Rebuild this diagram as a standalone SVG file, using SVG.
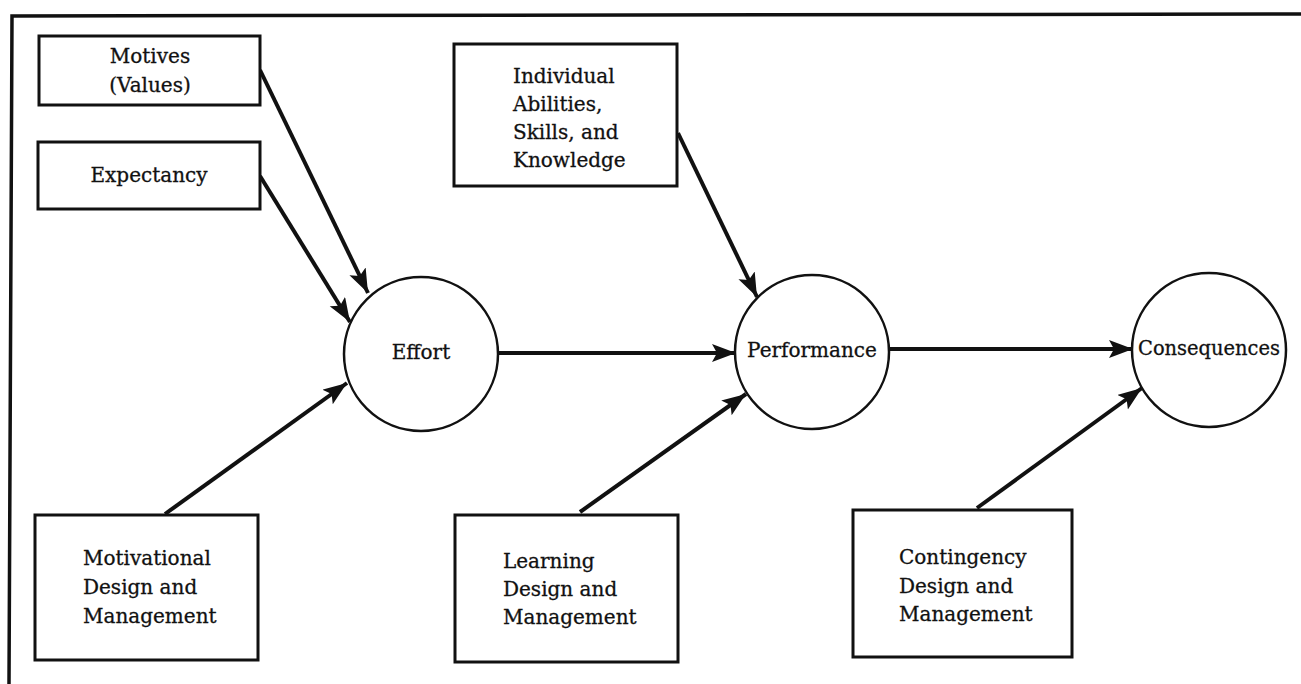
<svg xmlns="http://www.w3.org/2000/svg" width="1301" height="684" viewBox="0 0 1301 684">
<style>
.box{fill:#fff;stroke:#111;stroke-width:3}
.circ{fill:#fff;stroke:#111;stroke-width:2.5}
.t{font-family:"DejaVu Serif","Liberation Serif",serif;font-size:20px;fill:#111;stroke:#111;stroke-width:0.3}
.c{text-anchor:middle}
.conn{stroke:#111;stroke-width:4;fill:none;marker-end:url(#ah)}
.frame{stroke:#111;stroke-width:3.5;fill:none}
</style>
<defs>
<marker id="ah" markerUnits="userSpaceOnUse" markerWidth="26" markerHeight="20" refX="24" refY="9" orient="auto">
<path d="M0,0 L24,9 L0,18 L5,9 Z" fill="#111"/>
</marker>
</defs>
<rect width="1301" height="684" fill="#fff"/>
<path class="frame" d="M1301,14 L12,16 L9,684"/>
<g id="connectors">
<line class="conn" x1="260" y1="70" x2="368" y2="293"/>
<line class="conn" x1="260" y1="176" x2="350" y2="322"/>
<line class="conn" x1="165" y1="514" x2="347" y2="383"/>
<line class="conn" x1="497" y1="353" x2="736" y2="353"/>
<line class="conn" x1="678" y1="133" x2="757" y2="297"/>
<line class="conn" x1="580" y1="512" x2="746" y2="394"/>
<line class="conn" x1="888" y1="349" x2="1133" y2="349"/>
<line class="conn" x1="977" y1="508" x2="1142" y2="388"/>
</g>
<g id="motives">
<rect class="box" x="39" y="36" width="221" height="69"/>
<text class="t c" x="150" y="63">Motives</text>
<text class="t c" x="150" y="92">(Values)</text>
</g>
<g id="expectancy">
<rect class="box" x="38" y="142" width="222" height="67"/>
<text class="t c" x="149" y="182">Expectancy</text>
</g>
<g id="individual">
<rect class="box" x="454" y="44" width="223" height="142"/>
<text class="t" x="513" y="83">Individual</text>
<text class="t" x="513" y="111">Abilities,</text>
<text class="t" x="513" y="139">Skills, and</text>
<text class="t" x="513" y="167">Knowledge</text>
</g>
<g id="effort">
<circle class="circ" cx="421" cy="354" r="77"/>
<text class="t c" x="421" y="359">Effort</text>
</g>
<g id="performance">
<circle class="circ" cx="812" cy="352" r="77"/>
<text class="t c" x="812" y="357">Performance</text>
</g>
<g id="consequences">
<circle class="circ" cx="1209" cy="350" r="77"/>
<text class="t c" x="1209" y="355" textLength="142" lengthAdjust="spacingAndGlyphs">Consequences</text>
</g>
<g id="motivational">
<rect class="box" x="35" y="515" width="223" height="145"/>
<text class="t" x="83" y="565">Motivational</text>
<text class="t" x="83" y="594">Design and</text>
<text class="t" x="83" y="623">Management</text>
</g>
<g id="learning">
<rect class="box" x="455" y="515" width="223" height="147"/>
<text class="t" x="503" y="568">Learning</text>
<text class="t" x="503" y="596">Design and</text>
<text class="t" x="503" y="624">Management</text>
</g>
<g id="contingency">
<rect class="box" x="853" y="510" width="219" height="147"/>
<text class="t" x="899" y="564">Contingency</text>
<text class="t" x="899" y="593">Design and</text>
<text class="t" x="899" y="621">Management</text>
</g>
</svg>
